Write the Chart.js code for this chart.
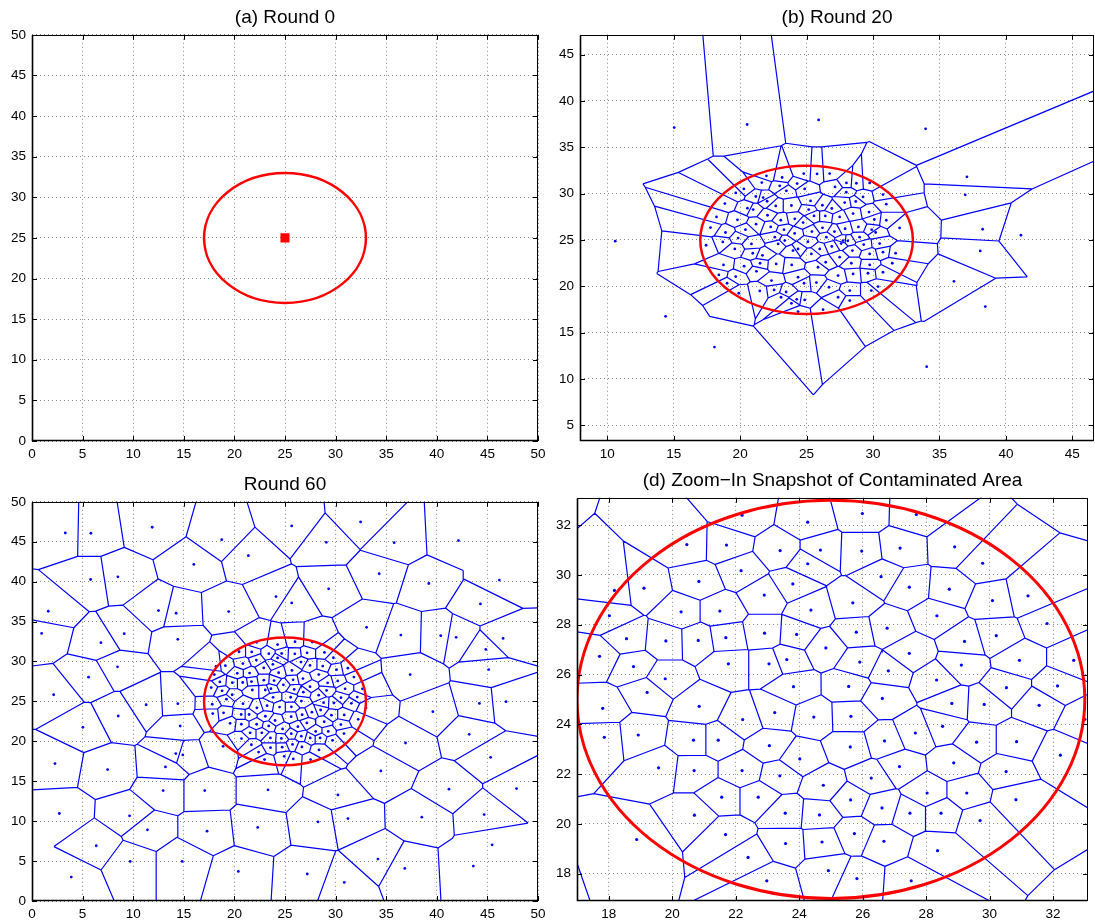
<!DOCTYPE html>
<html>
<head>
<meta charset="utf-8">
<script src="https://cdn.jsdelivr.net/npm/chart.js@4.4.1/dist/chart.umd.min.js"></script>
<style>
  html, body { margin: 0; padding: 0; background: #fff; width: 1095px; height: 920px; overflow: hidden; }
  .panel { position: absolute; }
  canvas { display: block; }
</style>
</head>
<body>
<div class="panel" id="wrapA"><canvas id="chartA"></canvas></div>
<div class="panel" id="wrapB"><canvas id="chartB"></canvas></div>
<div class="panel" id="wrapC"><canvas id="chartC"></canvas></div>
<div class="panel" id="wrapD"><canvas id="chartD"></canvas></div>
<script>
// ---- sensor positions -------------------------------------------------
// Round 0: every node starts at the release point
const sitesRound0 = [[25, 25]];

// Round 20: nodes drifting out of the contaminated area
const sitesRound20Outer = [
  [15.04,37.12],[20.53,37.45],[25.91,37.95],[33.96,36.98],[37.07,31.8],[36.94,29.86],
  [38.25,26.15],[10.6,24.86],[14.39,16.75],[18.07,13.44],[41.13,25.5],[38.07,23.81],
  [36.09,20.53],[38.45,17.8],[34.04,11.32]
];
const sitesRound20Inner = [
  [21.98,31.91],[23.16,31.73],[24.79,32.16],[25.79,32.12],[21.63,31.19],[20.28,30.5],
  [22.98,30.83],[24.29,31.08],[19.67,30.07],[21.18,29.68],[21.73,29.57],[23.48,30.29],
  [24.86,30.5],[18.85,28.92],[20.55,28.42],[20.98,28.27],[22.03,29.17],[22.68,28.67],
  [23.86,28.71],[25.16,28.27],[18.22,27.48],[19.8,27.16],[22.06,27.66],[23.06,27.12],
  [24.11,27.27],[24.74,26.87],[25.56,27.59],[17.77,26.33],
  [26.74,32.16],[28.0,31.15],[27.14,30.72],[28.75,31.11],[29.75,31.15],[27.99,30.14],
  [29.25,29.64],[30.75,29.89],[26.19,28.74],[27.87,29.03],[28.7,29.14],[31.0,28.85],
  [26.41,27.59],[27.49,27.48],[28.5,27.84],[31.0,27.12],[32.0,26.29],
  [17.44,24.42],[18.7,24.78],[19.85,25.2],[18.75,22.3],[19.6,24.03],[20.3,22.16],
  [20.95,23.56],[21.68,23.34],[18.4,21.22],[19.67,21.04],[19.02,20.32],[21.23,21.61],
  [21.5,22.48],[22.71,22.41],[23.88,22.3],[19.9,19.24],[21.48,19.49],[22.36,20.61],
  [22.56,19.6],[23.46,19.38],[23.08,18.81],[24.26,18.59],[23.86,18.16],[24.36,17.26],
  [24.86,18.52],[24.36,20.97],[24.81,20.32],[25.36,23.49],[25.74,20.39],[25.86,22.05],
  [22.86,24.57],[23.98,23.85],[20.85,24.57],[22.61,25.29],[23.36,24.93],[24.36,24.03],
  [26.49,25.29],[27.74,24.93],[28.99,25.29],[25.99,24.03],[27.49,23.13],[28.45,23.85],
  [29.75,23.49],[30.75,23.67],[31.7,23.56],[26.44,22.59],[28.37,22.48],[29.75,22.3],
  [31.45,22.48],[27.37,21.15],[28.5,21.33],[29.62,21.4],[30.75,21.51],[26.69,19.89],
  [28.25,19.53],[29.87,19.53],[30.38,19.96],[27.37,18.81],[28.25,18.45],[26.24,17.47],
  [25.4,25.9],[26.2,26.3],[27.1,25.9],[27.9,26.2],[28.9,26.4],[29.9,26.1],[30.5,24.6],
  [25.1,24.8],[26.9,24.3],[27.6,24.6],[28.1,24.9],[29.3,24.5],[25.3,29.2],[26.9,28.4],
  [29.7,28.0],[30.2,25.8],[23.3,26.1],[21.2,26.7],[20.4,26.1],[22.3,26.4],[24.1,25.7],
  [18.9,25.8],[30.1,27.2]
];

// Round 60: dense core inside the contaminated area
const sitesRound60Inner = [
  [22.2,32.4],[24.27,32.12],[20.46,31.22],[21.71,31.2],[23.4,30.98],[24.67,31.0],
  [24.27,30.45],[22.17,30.17],[18.18,29.38],[19.11,29.47],[20.84,29.74],[23.8,29.64],
  [22.9,29.19],[18.02,28.36],[20.28,28.52],[21.5,28.55],[24.37,28.59],[18.56,27.44],
  [19.8,27.35],[20.82,27.37],[21.69,27.48],[22.91,27.66],[23.92,27.61],[24.84,27.07],
  [17.71,26.73],[18.78,26.32],[19.78,25.83],[21.77,26.43],[23.05,26.43],[23.61,26.6],
  [19.21,25.28],[23.82,25.51],
  [25.99,32.47],[27.69,32.43],[25.97,30.96],[27.18,31.08],[28.9,31.13],[29.78,30.47],
  [26.58,29.93],[27.47,29.51],[28.73,29.43],[30.09,28.97],[31.21,29.16],[25.69,28.88],
  [26.77,27.86],[25.8,27.7],[28.34,28.36],[30.21,27.56],[31.81,28.05],[29.21,27.33],
  [27.47,26.85],[25.91,26.5],[26.81,26.15],[29.11,26.38],[30.94,26.57],[32.65,26.57],
  [28.33,25.78],[30.53,25.47],[32.14,25.54],[25.56,25.52],[26.62,25.04],
  [17.81,24.64],[20.85,24.72],[22.22,24.19],[23.23,24.47],[24.46,24.29],[17.86,23.48],
  [18.93,23.57],[20.67,23.36],[21.45,23.36],[23.06,23.14],[24.02,22.61],[19.57,22.25],
  [20.69,22.14],[22.2,22.14],[23.39,21.93],[24.76,21.55],[21.56,21.07],[22.71,21.07],
  [20.7,20.35],[23.56,20.43],[24.64,20.36],[21.68,19.57],[23.57,19.21],[24.72,19.27],
  [18.88,19.37],[22.39,18.65],[22.98,17.71],[24.92,18.12],
  [28.81,24.84],[29.83,24.8],[31.56,24.76],[25.63,24.32],[28.52,23.92],[27.66,23.65],
  [26.69,23.33],[29.59,23.28],[30.85,23.3],[25.61,23.09],[32.23,22.76],[28.87,22.45],
  [27.16,22.3],[30.52,22.1],[26.27,21.84],[28.03,21.24],[29.28,21.24],[30.83,20.97],
  [25.62,20.96],[26.61,20.64],[27.49,20.43],[28.47,20.43],[29.7,20.13],[25.74,19.61],
  [26.67,19.3],[28.36,18.92],[25.82,17.8],[27.53,17.71],[33.0,24.2]
];
// Round 60: nodes spread over the rest of the field
const sitesRound60Outer = [
  [3.29,46.1],[5.82,46.06],[11.88,46.81],[18.75,45.26],[21.38,43.25],[15.99,42.16],
  [5.79,40.27],[8.49,40.6],[1.61,36.29],[12.5,36.37],[14.24,36.04],[19.44,36.25],
  [0.95,33.52],[9.11,33.48],[6.81,32.35],[14.41,32.77],[8.45,29.33],[5.59,28.03],
  [25.66,46.98],[32.47,47.48],[29.08,44.93],[35.79,44.88],[42.14,45.14],[34.31,40.99],
  [39.21,39.77],[46.18,40.19],[29.31,39.1],[24.11,38.13],[25.66,37.34],[44.31,37.21],
  [33.06,34.28],[36.45,33.31],[40.39,33.23],[41.91,33.02],[46.55,32.89],[44.84,31.51],
  [37.37,28.36],[45.13,28.99],
  [2.14,25.83],[11.28,24.58],[14.41,24.71],[5.03,21.75],[8.52,23.17],[14.64,21.92],
  [2.27,17.21],[7.47,16.46],[13.19,16.79],[14.21,18.46],[14.9,18.29],[12.96,13.83],
  [17.07,13.83],[23.32,13.92],[2.7,10.96],[9.64,10.67],[11.41,8.92],[17.3,8.75],
  [22.3,9.21],[6.35,6.92],[9.7,4.96],[14.84,4.96],[3.88,3.0],[20.39,3.71],
  [44.21,24.75],[46.84,24.96],[39.61,23.71],[43.2,20.88],[36.91,19.79],[45.32,18.0],
  [34.47,16.29],[41.2,14.0],[47.88,14.08],[30.23,13.29],[31.22,10.33],[28.26,9.92],
  [38.52,10.5],[44.68,10.83],[45.47,7.04],[34.18,5.25],[36.84,4.08],[43.61,4.38],
  [27.2,3.38],[30.86,2.33]
];

// contaminated area: centre and radius
const hazardCentre = [25, 25];
const hazardRadius = 8;

// tick labels per panel
const ticksFull = [0, 5, 10, 15, 20, 25, 30, 35, 40, 45, 50];
const ticksRound20X = [10, 15, 20, 25, 30, 35, 40, 45];
const ticksRound20Y = [5, 10, 15, 20, 25, 30, 35, 40, 45];
const ticksZoom = [18, 20, 22, 24, 26, 28, 30, 32];

// ---- Voronoi cells by half-plane clipping -----------------------------
function clipHalf(poly, a, b) {
  const mx = (a[0] + b[0]) / 2, my = (a[1] + b[1]) / 2;
  const nx = b[0] - a[0], ny = b[1] - a[1];
  const out = [];
  for (let k = 0; k < poly.length; k++) {
    const p = poly[k], q = poly[(k + 1) % poly.length];
    const dp = (p[0] - mx) * nx + (p[1] - my) * ny;
    const dq = (q[0] - mx) * nx + (q[1] - my) * ny;
    if (dp <= 0) out.push(p);
    if ((dp < 0 && dq > 0) || (dp > 0 && dq < 0)) {
      const t = dp / (dp - dq);
      out.push([p[0] + t * (q[0] - p[0]), p[1] + t * (q[1] - p[1])]);
    }
  }
  return out;
}

// only finite edges (between two Voronoi vertices) are kept
function voronoiSegments(sites) {
  const LIM = 5000;
  const seen = new Set();
  const pts = [];
  const far = p => Math.abs(p[0]) > LIM - 1 || Math.abs(p[1]) > LIM - 1;
  sites.forEach((s, i) => {
    let poly = [[-LIM, -LIM], [LIM, -LIM], [LIM, LIM], [-LIM, LIM]];
    sites.forEach((o, j) => {
      if (i === j || (o[0] === s[0] && o[1] === s[1]) || poly.length === 0) return;
      poly = clipHalf(poly, s, o);
    });
    for (let k = 0; k < poly.length; k++) {
      const p = poly[k], q = poly[(k + 1) % poly.length];
      if (far(p) || far(q)) continue;
      const kp = p[0].toFixed(3) + ',' + p[1].toFixed(3);
      const kq = q[0].toFixed(3) + ',' + q[1].toFixed(3);
      if (kp === kq) continue;
      const key = kp < kq ? kp + '|' + kq : kq + '|' + kp;
      if (seen.has(key)) continue;
      seen.add(key);
      pts.push({x: p[0], y: p[1]}, {x: q[0], y: q[1]}, {x: NaN, y: NaN});
    }
  });
  return pts;
}

const toXY = arr => arr.map(p => ({x: p[0], y: p[1]}));

// ---- drawing helpers --------------------------------------------------
const FONT = "'Liberation Sans', Arial, Helvetica, sans-serif";
const BLUE = '#0000ff';
const RED = '#ff0000';

// red boundary of the contaminated area, placed through the scales
const hazardRing = {
  id: 'hazardRing',
  afterDatasetsDraw(chart, args, opts) {
    if (!opts || !opts.show) return;
    const {ctx, chartArea: a, scales: {x, y}} = chart;
    const cx = x.getPixelForValue(hazardCentre[0]);
    const cy = y.getPixelForValue(hazardCentre[1]);
    const rx = Math.abs(x.getPixelForValue(hazardCentre[0] + hazardRadius) - cx);
    const ry = Math.abs(y.getPixelForValue(hazardCentre[1] + hazardRadius) - cy);
    ctx.save();
    ctx.beginPath();
    ctx.rect(a.left, a.top, a.right - a.left, a.bottom - a.top);
    ctx.clip();
    ctx.beginPath();
    ctx.ellipse(cx, cy, rx, ry, 0, 0, Math.PI * 2);
    ctx.strokeStyle = RED;
    ctx.lineWidth = opts.width || 2.5;
    ctx.stroke();
    ctx.restore();
  }
};

// boxed axes with inward tick marks on all four sides
const boxedAxes = {
  id: 'boxedAxes',
  afterDraw(chart) {
    const {ctx, chartArea: a, scales: {x, y}} = chart;
    const L = 5;
    ctx.save();
    ctx.strokeStyle = '#000';
    ctx.lineWidth = 1;
    ctx.beginPath();
    x.ticks.forEach(t => {
      const px = Math.round(x.getPixelForValue(t.value)) + 0.5;
      ctx.moveTo(px, a.bottom); ctx.lineTo(px, a.bottom - L);
      ctx.moveTo(px, a.top); ctx.lineTo(px, a.top + L);
    });
    y.ticks.forEach(t => {
      const py = Math.round(y.getPixelForValue(t.value)) + 0.5;
      ctx.moveTo(a.left, py); ctx.lineTo(a.left + L, py);
      ctx.moveTo(a.right, py); ctx.lineTo(a.right - L, py);
    });
    ctx.stroke();
    const l = Math.round(a.left) + 0.5, r = Math.round(a.right) - 0.5;
    const t = Math.round(a.top) + 0.5, b = Math.round(a.bottom) - 0.5;
    ctx.strokeRect(l, t, r - l, b - t);
    ctx.lineWidth = 1.6;
    ctx.beginPath();
    ctx.moveTo(l, t); ctx.lineTo(l, b); ctx.lineTo(r, b);
    ctx.stroke();
    ctx.restore();
  }
};

const PAD = {left: 4, right: 18, top: 0, bottom: 4};
const Y_W = 34, X_H = 24, TITLE_SIZE = 19, TITLE_PAD = {top: 1, bottom: 6};

function axis(min, max, values) {
  return {
    type: 'linear', min, max,
    afterBuildTicks: s => { s.ticks = values.map(v => ({value: v})); },
    ticks: {
      autoSkip: false, maxRotation: 0, color: '#000', padding: 5,
      font: {family: FONT, size: 13.5},
      callback: v => String(v)
    },
    grid: {color: '#8c8c8c', lineWidth: 1, drawTicks: false},
    border: {display: false, dash: [1, 3]}
  };
}

function panel(id, wrapId, box, cfg) {
  const plotW = box.r - box.l, plotH = box.b - box.t;
  const titleH = TITLE_SIZE * 1.2 + TITLE_PAD.top + TITLE_PAD.bottom;
  const W = Math.round(PAD.left + Y_W + plotW + PAD.right);
  const H = Math.round(PAD.top + titleH + plotH + X_H + PAD.bottom);
  const canvas = document.getElementById(id);
  canvas.width = W; canvas.height = H;
  canvas.style.width = W + 'px'; canvas.style.height = H + 'px';
  const xs = axis(cfg.xMin, cfg.xMax, cfg.xTicks);
  xs.afterFit = s => { s.height = X_H; };
  const ys = axis(cfg.yMin, cfg.yMax, cfg.yTicks);
  ys.afterFit = s => { s.width = Y_W; };
  ys.ticks.padding = 6;
  const chart = new Chart(canvas, {
    type: 'scatter',
    data: {datasets: cfg.datasets},
    options: {
      responsive: false, maintainAspectRatio: false, animation: false,
      devicePixelRatio: 1,
      layout: {padding: PAD},
      scales: {x: xs, y: ys},
      plugins: {
        legend: {display: false},
        tooltip: {enabled: false},
        title: {
          display: true, text: cfg.title, color: '#000', fullSize: false,
          font: {family: FONT, size: TITLE_SIZE, weight: 'normal', lineHeight: 1.2},
          padding: TITLE_PAD
        },
        hazardRing: cfg.ring
      },
      events: []
    },
    plugins: [hazardRing, boxedAxes]
  });
  const a = chart.chartArea;
  const wrap = document.getElementById(wrapId);
  wrap.style.left = (box.l - a.left) + 'px';
  wrap.style.top = (box.t - a.top) + 'px';
  return chart;
}

function cellLines(sites) {
  return {
    type: 'line', data: voronoiSegments(sites), borderColor: BLUE, borderWidth: 1.2,
    pointRadius: 0, tension: 0, spanGaps: false, fill: false, order: 2
  };
}
function nodeDots(sites, r) {
  return {
    data: toXY(sites), pointRadius: r, pointStyle: 'circle',
    backgroundColor: BLUE, borderWidth: 0, order: 1
  };
}

const sitesRound20 = sitesRound20Inner.concat(sitesRound20Outer);
const sitesRound60 = sitesRound60Inner.concat(sitesRound60Outer);

panel('chartA', 'wrapA', {l: 31.7, t: 34.3, r: 537.7, b: 440}, {
  title: '(a) Round 0',
  xMin: 0, xMax: 50, yMin: 0, yMax: 50, xTicks: ticksFull, yTicks: ticksFull,
  ring: {show: true, width: 2.5},
  datasets: [{
    data: toXY(sitesRound0), pointStyle: 'rect', pointRadius: 6.4,
    backgroundColor: RED, borderColor: RED, borderWidth: 0
  }]
});

panel('chartB', 'wrapB', {l: 580, t: 34.3, r: 1094, b: 440}, {
  title: '(b) Round 20',
  xMin: 7.95, xMax: 46.63, yMin: 3.3, yMax: 47.13, xTicks: ticksRound20X, yTicks: ticksRound20Y,
  ring: {show: true, width: 2.5},
  datasets: [cellLines(sitesRound20), nodeDots(sitesRound20, 1.4)]
});

panel('chartC', 'wrapC', {l: 31.7, t: 501.7, r: 537.7, b: 900.7}, {
  title: 'Round 60',
  xMin: 0, xMax: 50, yMin: 0, yMax: 50, xTicks: ticksFull, yTicks: ticksFull,
  ring: {show: true, width: 2.5},
  datasets: [cellLines(sitesRound60), nodeDots(sitesRound60, 1.4)]
});

panel('chartD', 'wrapD', {l: 577.3, t: 497.3, r: 1088.3, b: 900}, {
  title: '(d) Zoom\u2212In Snapshot of Contaminated Area',
  xMin: 17, xMax: 33.1, yMin: 16.9, yMax: 33.1, xTicks: ticksZoom, yTicks: ticksZoom,
  ring: {show: true, width: 3},
  datasets: [cellLines(sitesRound60), nodeDots(sitesRound60, 1.6)]
});
</script>
</body>
</html>
